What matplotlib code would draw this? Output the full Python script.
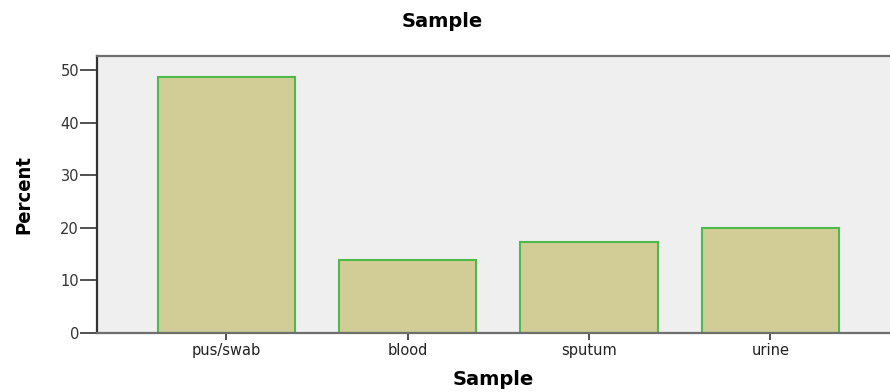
import matplotlib
matplotlib.use('Agg')
import matplotlib.pyplot as plt

categories = ['pus/swab', 'blood', 'sputum', 'urine']
percent = [48.7, 13.9, 17.3, 20.0]

plt.rcParams['font.family'] = 'DejaVu Sans'

fig = plt.figure(figsize=(8.9, 3.92), dpi=100)
ax = fig.add_axes([0.109, 0.1505, 0.891, 0.7065])
ax.set_facecolor('#efefef')

x = list(range(len(categories)))
ax.bar(x, percent, width=0.757, color='#d2cd97', edgecolor='#4cbb4c', linewidth=1.5)

ax.set_xlim(-0.713, 3.66)
ax.set_ylim(0, 52.7)
ax.set_yticks([0, 10, 20, 30, 40, 50])
ax.set_xticks(x)
ax.set_xticklabels(categories, fontsize=10.5, color='#222222')
ax.tick_params(axis='y', length=12, width=1.2, color='#333333', labelsize=10.5,
               labelcolor='#333333', pad=1)
ax.tick_params(axis='x', length=5, width=1.2, color='#333333', pad=2)

for s in ['left', 'bottom', 'top']:
    ax.spines[s].set_color('#6e6e6e')
    ax.spines[s].set_linewidth(1.6)
ax.spines['left'].set_color('#333333')
ax.spines['right'].set_visible(False)

ax.set_xlabel('Sample', fontsize=14, fontweight='bold', labelpad=9)
ax.set_ylabel('Percent', fontsize=14.5, fontweight='bold', fontstretch='condensed',
              labelpad=19)
fig.text(0.497, 0.945, 'Sample', ha='center', va='center', fontsize=14, fontweight='bold')

fig.savefig('out.png', dpi=100)
